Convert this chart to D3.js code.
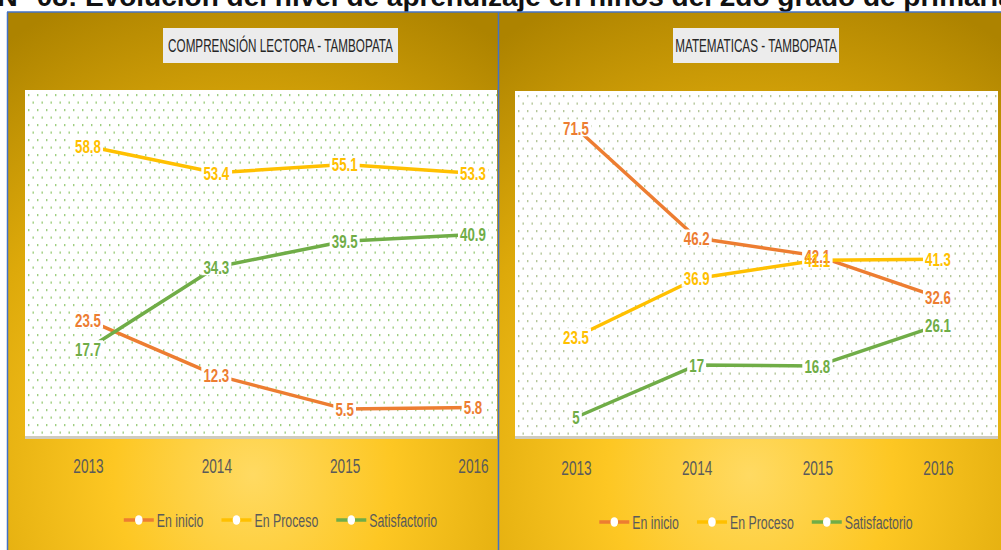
<!DOCTYPE html>
<html>
<head>
<meta charset="utf-8">
<style>
    body { margin: 0; background: #fff; }
    svg { display: block; }
    .axis .domain { display: none; }
    .axis text { font-family: "Liberation Sans", Arial, sans-serif; font-size: 21px; fill: #5a5a5a; }
</style>
</head>
<body>
<svg width="1001" height="550"></svg>
<script src="https://d3js.org/d3.v7.min.js"></script>
<script>
    // data
    const years = ["2013", "2014", "2015", "2016"];
    const seriesNames = ["En inicio", "En Proceso", "Satisfactorio"];
    const seriesColors = ["#ED7D31", "#FFC000", "#70AD47"];

    const lectoraInicio = [23.5, 12.3, 5.5, 5.8];
    const lectoraProceso = [58.8, 53.4, 55.1, 53.3];
    const lectoraSatisf = [17.7, 34.3, 39.5, 40.9];

    const mateInicio = [71.5, 46.2, 42.1, 32.6];
    const mateProceso = [23.5, 36.9, 41.1, 41.3];
    const mateSatisf = [5, 17, 16.8, 26.1];

    // the scan is squeezed sideways, so text gets a horizontal scale
    const font = '"Liberation Sans", Arial, sans-serif';
    const squeeze = 0.65;
    const labelSqueeze = 0.7;

    const panels = [
        {
            id: "p1", title: "COMPRENSIÓN LECTORA  - TAMBOPATA",
            values: [lectoraInicio, lectoraProceso, lectoraSatisf],
            bg: { x: 8, y: 12, w: 490, h: 538 },
            plot: { x: 25, y: 90, w: 472, h: 346 },
            box: { x: 163, y: 28, w: 235, h: 35 },
            xRange: [88, 473], yMax: 70, yRange: [436, 91],
            axisY: 458, legendY: 520, dot: "#9fcf80"
        },
        {
            id: "p2", title: "MATEMATICAS - TAMBOPATA",
            values: [mateInicio, mateProceso, mateSatisf],
            bg: { x: 499, y: 12, w: 502, h: 538 },
            plot: { x: 515, y: 91, w: 483, h: 345 },
            box: { x: 673, y: 28, w: 166, h: 35 },
            xRange: [576, 938], yMax: 80, yRange: [439, 91],
            axisY: 460, legendY: 522, dot: "#b5c79a"
        }
    ];

    let svg = d3.select("svg");
    let defs = svg.append("defs");

    // page heading, cut off at the top like in the scan
    let head = svg.append("text")
        .attr("y", 6)
        .style("font-family", font)
        .style("font-weight", "bold")
        .style("font-size", "28px")
        .style("fill", "#111")
        .text("Gráfico N° 08: Evolución del nivel de aprendizaje en niños del 2do grado de primaria");
    let full = head.text();
    let pre = head.node().getSubStringLength(0, full.indexOf("Evolución"));
    head.attr("x", 85 - pre);

    panels.forEach(function (p) {
        let grad = defs.append("radialGradient")
            .attr("id", "g-" + p.id)
            .attr("cx", "50%").attr("cy", "86%").attr("r", "95%")
            .attr("fx", "50%").attr("fy", "86%");
        grad.append("stop").attr("offset", "0%").attr("stop-color", "#FFDA62");
        grad.append("stop").attr("offset", "30%").attr("stop-color", "#FDC723");
        grad.append("stop").attr("offset", "65%").attr("stop-color", "#DDA90A");
        grad.append("stop").attr("offset", "100%").attr("stop-color", "#AD8300");

        let pat = defs.append("pattern")
            .attr("id", "d-" + p.id)
            .attr("patternUnits", "userSpaceOnUse")
            .attr("x", p.plot.x + 3).attr("y", p.plot.y + 4)
            .attr("width", 9).attr("height", 15);
        pat.append("rect").attr("width", 9).attr("height", 15).attr("fill", "#fff");
        pat.append("rect").attr("x", 0).attr("y", 0).attr("width", 1.4).attr("height", 2.2).attr("fill", p.dot);
        pat.append("rect").attr("x", 4.5).attr("y", 7.5).attr("width", 1.4).attr("height", 2.2).attr("fill", p.dot);

        let g = svg.append("g");

        g.append("rect")
            .attr("x", p.bg.x).attr("y", p.bg.y)
            .attr("width", p.bg.w).attr("height", p.bg.h)
            .attr("fill", "url(#g-" + p.id + ")");

        // plot area + soft shadow
        g.append("rect")
            .attr("x", p.plot.x).attr("y", p.plot.y + p.plot.h)
            .attr("width", p.plot.w).attr("height", 3)
            .attr("fill", "#cfcbbf");
        g.append("rect")
            .attr("x", p.plot.x).attr("y", p.plot.y)
            .attr("width", p.plot.w).attr("height", p.plot.h)
            .attr("fill", "url(#d-" + p.id + ")");

        // title box
        g.append("rect")
            .attr("x", p.box.x).attr("y", p.box.y)
            .attr("width", p.box.w).attr("height", p.box.h)
            .attr("fill", "#ECECEC");
        g.append("text")
            .attr("transform", `translate(${p.box.x + p.box.w / 2},${p.box.y + p.box.h / 2}) scale(${squeeze},1)`)
            .attr("text-anchor", "middle")
            .attr("dy", "0.36em")
            .style("font-family", font)
            .style("font-size", "18px")
            .style("fill", "#262626")
            .text(p.title);

        let x = d3.scalePoint().domain(years).range(p.xRange);
        let y = d3.scaleLinear().domain([0, p.yMax]).range(p.yRange);

        let axis = g.append("g")
            .attr("class", "axis")
            .attr("transform", `translate(0,${p.axisY})`)
            .call(d3.axisBottom(x).tickSize(0).tickPadding(0));
        axis.selectAll("text").attr("transform", `scale(${squeeze},1)`);

        let line = d3.line()
            .x((d, i) => x(years[i]))
            .y(d => y(d));

        g.append("g")
            .selectAll("path")
            .data(p.values)
            .join("path")
            .attr("d", d => line(d))
            .attr("fill", "none")
            .attr("stroke", (d, i) => seriesColors[i])
            .attr("stroke-width", 3.5)
            .attr("stroke-linejoin", "round");

        // data labels centred on the points; all white boxes go under all texts
        let boxes = g.append("g");
        let labels = g.append("g");
        p.values.forEach(function (vals, si) {
            vals.forEach(function (v, i) {
                let tr = `translate(${x(years[i])},${y(v)}) scale(${labelSqueeze},1)`;
                let t = labels.append("text")
                    .attr("transform", tr)
                    .attr("text-anchor", "middle")
                    .attr("dy", "0.36em")
                    .style("font-family", font)
                    .style("font-size", "19px")
                    .style("font-weight", "bold")
                    .style("fill", seriesColors[si])
                    .text(v);
                let bb = t.node().getBBox();
                boxes.append("rect")
                    .attr("transform", tr)
                    .attr("x", bb.x - 3).attr("y", bb.y + 2)
                    .attr("width", bb.width + 6).attr("height", bb.height - 4)
                    .attr("fill", "#fff");
            });
        });

        // legend, centred under the title box
        let leg = g.append("g");
        let items = seriesNames.map(function (name, i) {
            let it = leg.append("g");
            it.append("line")
                .attr("x1", 0).attr("x2", 30)
                .attr("stroke", seriesColors[i])
                .attr("stroke-width", 3.5);
            it.append("ellipse")
                .attr("cx", 15).attr("rx", 3.8).attr("ry", 4.8)
                .attr("fill", "#fff");
            let t = it.append("text")
                .attr("transform", `translate(33,0) scale(${squeeze},1)`)
                .attr("dy", "0.36em")
                .style("font-family", font)
                .style("font-size", "19px")
                .style("fill", "#5a5a5a")
                .text(name);
            return { g: it, w: 33 + t.node().getComputedTextLength() * squeeze };
        });
        let gap = 18;
        let total = d3.sum(items, d => d.w) + gap * (items.length - 1);
        let cx = p.box.x + p.box.w / 2 - total / 2;
        items.forEach(function (d) {
            d.g.attr("transform", `translate(${cx},${p.legendY})`);
            cx += d.w + gap;
        });
    });

    // thin blue frame lines of the scanned figure
    let frame = svg.append("g")
        .attr("stroke", "#4472C4")
        .attr("stroke-width", 1.5);
    frame.append("line").attr("x1", 7).attr("x2", 1001).attr("y1", 12).attr("y2", 12);
    frame.append("line").attr("x1", 7.5).attr("x2", 7.5).attr("y1", 12).attr("y2", 550);
    frame.append("line").attr("x1", 498.5).attr("x2", 498.5).attr("y1", 12).attr("y2", 550);
</script>
</body>
</html>
